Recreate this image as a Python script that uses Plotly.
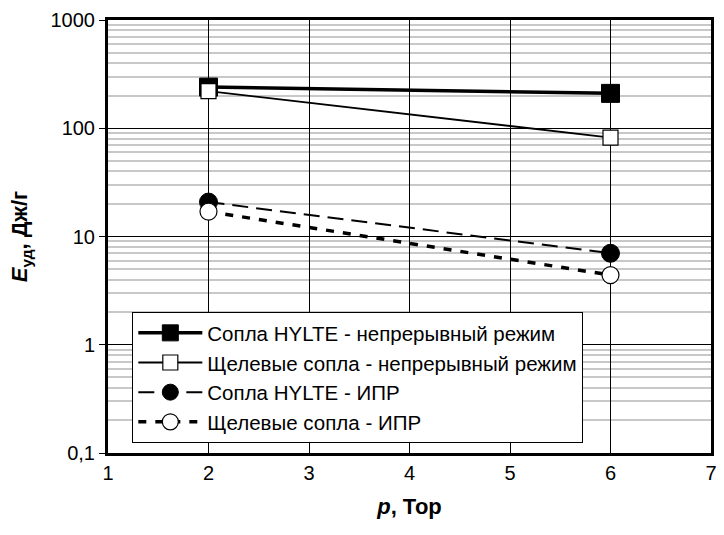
import plotly.graph_objects as go

# Pressure, Torr
p = [2, 6]

# Specific energy, J/g
hylte_cont = [240, 210]
slit_cont = [220, 82]
hylte_ipr = [20.8, 7.0]
slit_ipr = [17.0, 4.4]

names = [
    "Сопла HYLTE - непрерывный режим",
    "Щелевые сопла - непрерывный режим",
    "Сопла HYLTE - ИПР",
    "Щелевые сопла - ИПР",
]

y_tickvals = [0.1, 1, 10, 100, 1000]
y_ticktext = ["0,1", "1", "10", "100", "1000"]
x_tickvals = [1, 2, 3, 4, 5, 6, 7]

minor_vals = [m * 10 ** e for e in range(-1, 3) for m in range(2, 10)]

FONT = "Arial, Liberation Sans, sans-serif"

fig = go.Figure()

fig.add_trace(go.Scatter(
    x=p, y=hylte_cont, name=names[0], mode="lines+markers",
    line=dict(color="black", width=3.5),
    marker=dict(symbol="square", size=18, color="black",
                line=dict(color="black", width=1)),
))
fig.add_trace(go.Scatter(
    x=p, y=slit_cont, name=names[1], mode="lines+markers",
    line=dict(color="black", width=1.8),
    marker=dict(symbol="square", size=15, color="white",
                line=dict(color="black", width=1.2)),
))
fig.add_trace(go.Scatter(
    x=p, y=hylte_ipr, name=names[2], mode="lines+markers",
    line=dict(color="black", width=2, dash="16px,8px"),
    marker=dict(symbol="circle", size=18, color="black",
                line=dict(color="black", width=1)),
))
fig.add_trace(go.Scatter(
    x=p, y=slit_ipr, name=names[3], mode="lines+markers",
    line=dict(color="black", width=3.5, dash="8px,9px"),
    marker=dict(symbol="circle", size=17, color="white",
                line=dict(color="black", width=1.2)),
))

fig.update_layout(
    width=724, height=535,
    margin=dict(l=108, r=7, t=20, b=82),
    paper_bgcolor="white", plot_bgcolor="white",
    font=dict(family=FONT, size=20, color="black"),
    showlegend=True,
    legend=dict(
        x=0.04, y=0.326, xanchor="left", yanchor="top",
        bgcolor="white", bordercolor="black", borderwidth=1.2,
        font=dict(family=FONT, size=20.5, color="black"),
        itemwidth=64, tracegroupgap=0,
    ),
)

fig.update_xaxes(
    range=[1, 7], tickvals=x_tickvals, ticks="",
    showgrid=True, gridcolor="black", gridwidth=1,
    showline=True, linecolor="black", linewidth=3, mirror=True,
    zeroline=False,
    tickfont=dict(family=FONT, size=20),
    title=dict(text="<b><i>p</i>, Тор</b>", font=dict(family=FONT, size=22),
               standoff=16),
)
fig.update_yaxes(
    type="log", range=[-1, 3],
    tickvals=y_tickvals, ticktext=y_ticktext,
    ticks="outside", ticklen=6, tickcolor="black", tickwidth=1,
    showgrid=True, gridcolor="black", gridwidth=1,
    minor=dict(tickvals=minor_vals, showgrid=True, gridcolor="#c8c8c8",
               gridwidth=1.5, ticks=""),
    showline=True, linecolor="black", linewidth=3, mirror=True,
    zeroline=False,
    tickfont=dict(family=FONT, size=20),
    title=dict(text="<b><i>E</i><sub>уд</sub>, Дж/г</b>",
               font=dict(family=FONT, size=22), standoff=17),
)

fig.write_html("out.html")
